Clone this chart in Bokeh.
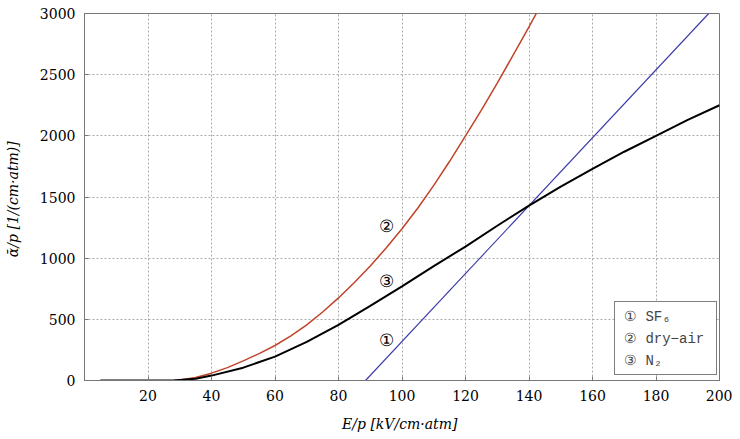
from bokeh.plotting import figure
from bokeh.models import Legend, LegendItem, FixedTicker
from bokeh.core.properties import value
from bokeh.embed import file_html
from bokeh.resources import INLINE

# ---- data ----
sf6_ep = [88.5, 196.6]
sf6_ap = [0, 3000]

air_ep = [28, 30, 35, 40, 45, 50, 55, 60, 65, 70, 75, 80, 85, 90, 95, 100, 105, 110, 115, 120, 125, 130, 135, 140, 142.5]
air_ap = [0, 5, 25, 60, 105, 160, 220, 286, 365, 455, 560, 675, 801, 936, 1083, 1240, 1410, 1595, 1792, 2000, 2210, 2430, 2660, 2890, 3010]

n2_ep = [5, 10, 20, 28, 35, 40, 50, 60, 70, 80, 90, 100, 110, 120, 130, 140, 150, 160, 170, 180, 190, 200]
n2_ap = [0, 0, 0, 0, 15, 40, 105, 195, 315, 455, 610, 770, 935, 1095, 1265, 1430, 1585, 1730, 1870, 2000, 2130, 2250]

x_ticks = [20, 40, 60, 80, 100, 120, 140, 160, 180, 200]
y_ticks = [0, 500, 1000, 1500, 2000, 2500, 3000]

marker_text = ["②", "③", "①"]
marker_x = [95.0, 95.0, 95.0]
marker_y = [1259, 810, 327]

legend_labels = ["① SF₆", "② dry−air", "③ N₂"]

SERIF = "DejaVu Serif"

p = figure(width=732, height=437, x_range=(0, 200), y_range=(0, 3000),
           output_backend="svg", toolbar_location=None,
           min_border_left=84, min_border_right=13, min_border_top=13, min_border_bottom=57)

p.background_fill_color = "white"
p.outline_line_color = "#777777"
p.outline_line_width = 1

for ax in (p.xaxis[0], p.yaxis[0]):
    ax.axis_line_color = "#777777"
    ax.major_tick_in = 4
    ax.major_tick_out = 0
    ax.major_tick_line_color = "#777777"
    ax.minor_tick_line_color = None
    ax.major_label_text_font = SERIF
    ax.major_label_text_font_size = "14px"
    ax.major_label_text_color = "black"
    ax.major_label_standoff = 9
    ax.axis_label_text_font = SERIF
    ax.axis_label_text_font_style = "italic"
    ax.axis_label_text_color = "black"
    ax.axis_label_text_font_size = "14px"

p.xaxis[0].ticker = FixedTicker(ticks=x_ticks)
p.yaxis[0].ticker = FixedTicker(ticks=y_ticks)
p.xaxis[0].axis_label = "E/p  [kV/cm·atm]"
p.yaxis[0].axis_label = "ᾱ/p  [1/(cm·atm)]"
p.xaxis[0].axis_label_standoff = 12
p.yaxis[0].axis_label_standoff = 16

p.xgrid.ticker = FixedTicker(ticks=x_ticks)
p.ygrid.ticker = FixedTicker(ticks=y_ticks)
for g in (p.xgrid, p.ygrid):
    g.grid_line_color = "#aaaaaa"
    g.grid_line_dash = "2 2"
    g.grid_line_width = 1

p.line(air_ep, air_ap, line_color="#c0432a", line_width=1.5)
p.line(sf6_ep, sf6_ap, line_color="#3a3aa8", line_width=1.1)
p.line(n2_ep, n2_ap, line_color="black", line_width=2)

p.text(x=marker_x, y=marker_y, text=marker_text, text_font=value(SERIF),
       text_font_size="17px", text_align="center", text_baseline="middle", text_color="black")

# legend (text only)
dummies = []
for lab in legend_labels:
    r = p.scatter(x=[], y=[], alpha=0)
    dummies.append(LegendItem(label=lab, renderers=[r]))
leg = Legend(items=dummies, location=(530, 5), glyph_width=2, glyph_height=20,
             label_standoff=3, label_text_font="Liberation Mono",
             label_text_font_size="14px", label_height=20, spacing=2,
             padding=4, margin=0, border_line_color="black", border_line_width=1,
             background_fill_alpha=1.0, label_width=88)
p.add_layout(leg, "center")

open("out.html", "w").write(file_html(p, INLINE))
